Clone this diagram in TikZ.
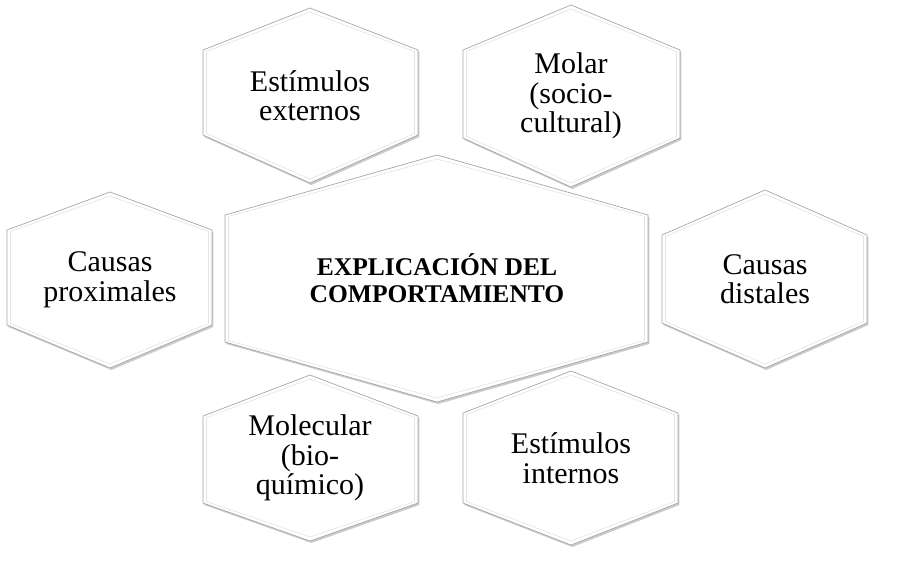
\documentclass[tikz,border=0pt]{standalone}
\usepackage{fontspec}
\setmainfont{Liberation Serif}
\usetikzlibrary{shadows}
\tikzset{
  hexfill/.style={fill=white, draw=gray!70, line width=0.7pt, line join=miter,
    drop shadow={shadow xshift=1.3pt, shadow yshift=-2pt, opacity=0.5, fill=gray!80}},
  hexinner/.style={draw=gray!22, line width=0.6pt},
  hextext/.style={align=center, inner sep=0pt, font=\fontsize{30}{29.5}\selectfont},
  maintext/.style={align=center, inner sep=0pt, font=\bfseries\fontsize{25.5}{27}\selectfont}
}
% #1 name, #2 xl, #3 xr, #4 ytop, #5 y upper corner, #6 y lower corner, #7 ybottom, #8 xcenter
\newcommand\myhex[8]{%
  \path[hexfill] (#2,#5) -- (#8,#4) -- (#3,#5) -- (#3,#6) -- (#8,#7) -- (#2,#6) -- cycle;
  \draw[hexinner] ({#2+3.5},{#5+1.5}) -- (#8,{#4+4}) -- ({#3-3.5},{#5+1.5}) -- ({#3-3.5},{#6-1.5}) -- (#8,{#7-4}) -- ({#2+3.5},{#6-1.5}) -- cycle;
  \coordinate (#1) at (#8,{(#4+#7)/2});
}
\begin{document}
\begin{tikzpicture}[x=1pt,y=-1pt]
\fill[white] (0,0) rectangle (900,563);
\useasboundingbox (0,0) rectangle (900,563);
\myhex{h1}{203}{418}{8}{50}{135}{183}{310}
\myhex{h2}{463}{680}{5}{50}{138}{187}{571}
\myhex{h3}{7}{212}{192}{230}{325}{368}{110}
\myhex{h5}{662}{867}{190}{235}{323}{368}{765}
\myhex{h6}{203}{418}{375}{416}{503}{541}{310}
\myhex{h7}{463}{678}{371}{413}{503}{545}{571}
\myhex{h4}{225}{648}{155}{215}{342}{402}{437}
\node[hextext] (t1) at (h1) {Estímulos\\externos};
\node[hextext] (t2) at (h2) {Molar\\(socio-\\cultural)};
\node[hextext] (t3) at (h3) {Causas\\proximales};
\node[hextext] (t5) at (h5) {Causas\\distales};
\node[hextext] (t6) at (h6) {Molecular\\(bio-\\químico)};
\node[hextext] (t7) at (h7) {Estímulos\\internos};
\node[maintext] (t4) at (h4) {EXPLICACIÓN DEL\\COMPORTAMIENTO};
\end{tikzpicture}
\end{document}
